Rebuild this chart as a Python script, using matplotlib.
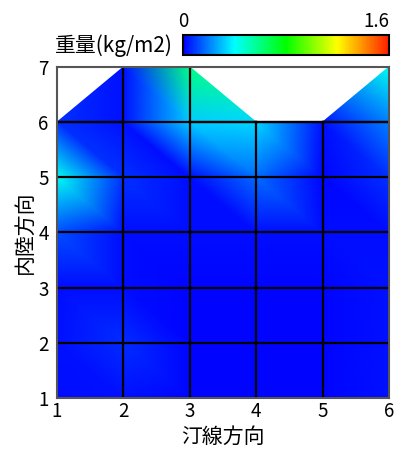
import matplotlib

matplotlib.use("Agg")
import matplotlib.pyplot as plt
import matplotlib.tri as mtri
import numpy as np
from matplotlib.colors import LinearSegmentedColormap

plt.rcParams["font.family"] = ["Noto Sans CJK JP", "DejaVu Sans"]

# node grid: shoreline direction (x) and inland direction (y)
X_NODES = [1, 2, 3, 4, 5, 6]
Y_NODES = [1, 2, 3, 4, 5, 6, 7]

# weight (kg/m2) per node, rows from y=1 up to y=7, NaN = no data
Z_ROWS = [
    [0.02, 0.03, 0.01, 0.01, 0.01, 0.03],
    [0.03, 0.07, 0.01, 0.01, 0.01, 0.03],
    [0.02, 0.02, 0.01, 0.01, 0.01, 0.03],
    [0.12, 0.02, 0.02, 0.02, 0.02, 0.02],
    [0.42, 0.08, 0.02, 0.17, 0.01, 0.08],
    [0.08, 0.03, 0.32, 0.34, 0.03, 0.20],
    [np.nan, 0.03, 0.60, np.nan, np.nan, 0.42],
]

VMIN, VMAX = 0.0, 1.6
CBAR_TICKS = [0, 1.6]
CBAR_LABEL = "重量(kg/m2)"
XLABEL = "汀線方向"
YLABEL = "内陸方向"

cmap = LinearSegmentedColormap.from_list(
    "weight",
    [(0.0, "#0000ff"), (0.25, "#00ffff"), (0.5, "#00ff00"),
     (0.75, "#ffff00"), (1.0, "#ff2000")],
)

# build nodes and triangles from the grid
z = np.array(Z_ROWS)
nx, ny = len(X_NODES), len(Y_NODES)
index = -np.ones((ny, nx), dtype=int)
xs, ys, zs = [], [], []
for j in range(ny):
    for i in range(nx):
        if not np.isnan(z[j, i]):
            index[j, i] = len(xs)
            xs.append(X_NODES[i])
            ys.append(Y_NODES[j])
            zs.append(z[j, i])

triangles = []
for j in range(ny - 1):
    for i in range(nx - 1):
        bl, br = index[j, i], index[j, i + 1]
        tl, tr = index[j + 1, i], index[j + 1, i + 1]
        corners = [c for c in (bl, br, tr, tl) if c >= 0]
        if len(corners) == 4:
            # split along the top-left to bottom-right diagonal
            triangles.append([bl, br, tl])
            triangles.append([br, tr, tl])
        elif len(corners) == 3:
            triangles.append(corners)

tri = mtri.Triangulation(xs, ys, triangles)

fig = plt.figure(figsize=(3.96, 4.59), dpi=100)
ax = fig.add_axes([0.144, 0.133, 0.838, 0.721])

mesh = ax.tripcolor(tri, zs, shading="gouraud", cmap=cmap, vmin=VMIN, vmax=VMAX)

# grid lines only between nodes that both hold data
for j in range(ny):
    for i in range(nx):
        if index[j, i] < 0:
            continue
        if i + 1 < nx and index[j, i + 1] >= 0 and 0 < j < ny - 1:
            ax.plot([X_NODES[i], X_NODES[i + 1]], [Y_NODES[j], Y_NODES[j]],
                    color="black", linewidth=1.6, solid_capstyle="projecting")
        if j + 1 < ny and index[j + 1, i] >= 0 and 0 < i < nx - 1:
            ax.plot([X_NODES[i], X_NODES[i]], [Y_NODES[j], Y_NODES[j + 1]],
                    color="black", linewidth=1.6, solid_capstyle="projecting")
# lower edge of the missing cells in the top row
for i in range(nx - 1):
    if index[ny - 1, i] < 0 or index[ny - 1, i + 1] < 0:
        ax.plot([X_NODES[i], X_NODES[i + 1]], [Y_NODES[-2], Y_NODES[-2]],
                color="black", linewidth=1.6)

ax.set_xlim(X_NODES[0], X_NODES[-1])
ax.set_ylim(Y_NODES[0], Y_NODES[-1])
ax.set_xticks(X_NODES)
ax.set_yticks(Y_NODES)
ax.tick_params(axis="both", length=0, labelsize=13.5)
ax.tick_params(axis="y", pad=6)
ax.tick_params(axis="x", pad=2)
for spine in ax.spines.values():
    spine.set_color("#555555")
    spine.set_linewidth(1.5)

ax.set_xlabel(XLABEL, fontsize=15, labelpad=3)
ax.set_ylabel(YLABEL, fontsize=15, labelpad=2)

cax = fig.add_axes([0.462, 0.880, 0.520, 0.0436])
cbar = fig.colorbar(mesh, cax=cax, orientation="horizontal", ticks=CBAR_TICKS)
cbar.ax.xaxis.set_ticks_position("top")
cbar.ax.tick_params(length=0, labelsize=13.5, pad=2)
cbar.ax.set_xticklabels(["0", "1.6"])
cbar.ax.get_xticklabels()[-1].set_horizontalalignment("right")
cbar.outline.set_linewidth(1.5)
cbar.outline.set_edgecolor("black")

fig.text(0.437, 0.900, CBAR_LABEL, ha="right", va="center", fontsize=15)

fig.savefig("out.png", dpi=100)
